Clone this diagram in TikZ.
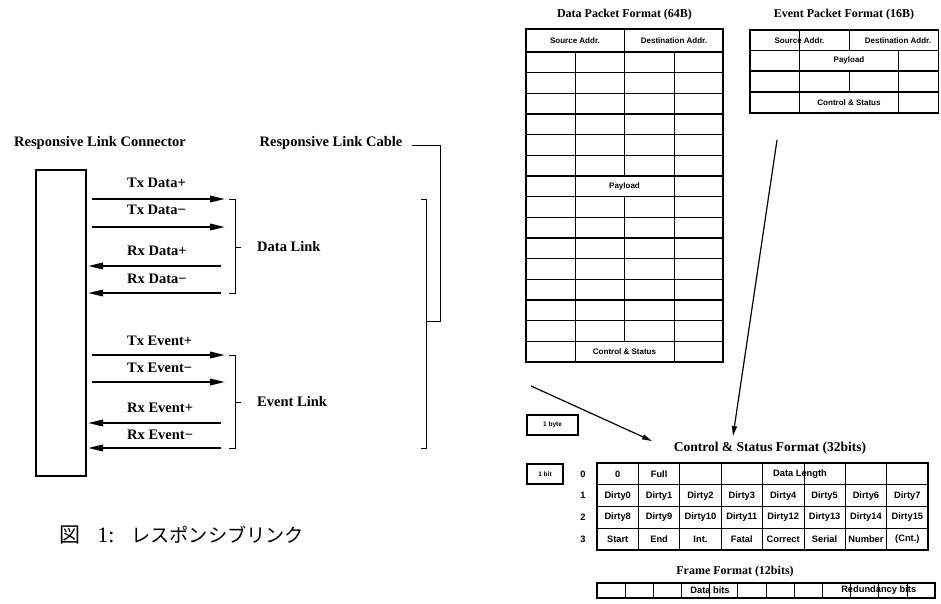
\documentclass[tikz,border=0pt]{standalone}
\usepackage{fontspec}
\newfontfamily\tms{Liberation Serif}
\newfontfamily\hlv{Liberation Sans}
\newfontfamily\cjk{Noto Sans CJK JP}
\usetikzlibrary{arrows.meta}
\begin{document}
\begin{tikzpicture}[x=1pt,y=-1pt,
  lbl/.style={font=\tms\bfseries\fontsize{14.5}{17}\selectfont, inner sep=0pt},
  ttl/.style={font=\tms\bfseries\fontsize{12}{14}\selectfont, inner sep=0pt},
  cell/.style={font=\hlv\bfseries\fontsize{8}{9}\selectfont, inner sep=0pt},
  csc/.style={font=\hlv\bfseries\fontsize{9.3}{10}\selectfont, inner sep=0pt},
  sig/.style={line width=1.9pt, -{Triangle[length=15pt,width=6.5pt]}},
  arr/.style={line width=1.2pt, -{Triangle[length=10pt,width=5pt]}},
  brk/.style={line width=0.9pt},
  hl/.style={line width=1.3pt},
  vl/.style={line width=0.7pt},
  bord/.style={line width=1.6pt},
  legend/.style={draw, line width=1.3pt, inner sep=0pt, font=\hlv\bfseries\fontsize{6.5}{7}\selectfont, minimum height=20pt}
]
\useasboundingbox (0,0) rectangle (941,604);

% ---------------- left: connector ----------------
\node[lbl] (tconn) at (100,143) {Responsive Link Connector};
\node[lbl] (tcable) at (331,143) {Responsive Link Cable};
\node[draw, line width=1.8pt, minimum width=50pt, minimum height=306pt, inner sep=0pt] (conn) at (61,323) {};

% signal coordinates
\coordinate (s1a) at (92,199);  \coordinate (s1b) at (225,199);
\coordinate (s2a) at (92,227);  \coordinate (s2b) at (225,227);
\coordinate (s3a) at (221,266); \coordinate (s3b) at (88,266);
\coordinate (s4a) at (221,293); \coordinate (s4b) at (88,293);
\coordinate (s5a) at (92,355);  \coordinate (s5b) at (225,355);
\coordinate (s6a) at (92,382);  \coordinate (s6b) at (225,382);
\coordinate (s7a) at (221,423); \coordinate (s7b) at (88,423);
\coordinate (s8a) at (221,448); \coordinate (s8b) at (88,448);
\foreach \i in {1,...,8} {\draw[sig] (s\i a) -- (s\i b);}

\node[lbl, anchor=west] (l1) at (127,183) {Tx Data+};
\node[lbl, anchor=west] (l2) at (127,210) {Tx Data−};
\node[lbl, anchor=west] (l3) at (127,251) {Rx Data+};
\node[lbl, anchor=west] (l4) at (127,279) {Rx Data−};
\node[lbl, anchor=west] (l5) at (127,341) {Tx Event+};
\node[lbl, anchor=west] (l6) at (127,368) {Tx Event−};
\node[lbl, anchor=west] (l7) at (127,408) {Rx Event+};
\node[lbl, anchor=west] (l8) at (127,435) {Rx Event−};

% brackets
\draw[brk] (229,199) -- (235,199) -- (235,293) -- (229,293) (235,247) -- (241,247);
\draw[brk] (229,355) -- (235,355) -- (235,448) -- (229,448) (235,402) -- (241,402);
\node[lbl, anchor=west] (ldata) at (257,247) {Data Link};
\node[lbl, anchor=west] (levent) at (257,402) {Event Link};
\draw[brk] (412,145) -- (440,145) -- (440,321) -- (427,321);
\draw[brk] (421,199) -- (426,199) -- (426,448) -- (421,448);

% caption
\node[font=\cjk\fontsize{21}{22}\selectfont, inner sep=0pt] (cfig) at (70,535) {図};
\node[font=\tms\fontsize{22}{24}\selectfont, inner sep=0pt] (cnum) at (106,535) {1:};
\node[font=\cjk\fontsize{19.2}{22}\selectfont, inner sep=0pt, anchor=west] (ctext) at (131,535) {レスポンシブリンク};

% ---------------- data packet table ----------------
\node[ttl] (dtitle) at (624.5,15) {Data Packet Format (64B)};
\foreach \k in {0,...,14} {\draw[hl] (526,{52+20.667*\k}) -- (723,{52+20.667*\k});}
\draw[vl] (575,52) -- (575,362);
\draw[vl] (624.5,29) -- (624.5,176) (624.5,196.67) -- (624.5,341.33);
\draw[vl] (674,52) -- (674,362);
\draw[bord] (526,29) rectangle (723,362);
\node[cell] (dsrc) at (575,40.5) {Source Addr.};
\node[cell] (ddst) at (674,40.5) {Destination Addr.};
\node[cell] (dpay) at (624.5,186.3) {Payload};
\node[cell] (dcs) at (624.5,351.7) {Control \& Status};

% ---------------- event packet table ----------------
\node[ttl] (etitle) at (844,15) {Event Packet Format (16B)};
\foreach \y in {50.5,71,92} {\draw[hl] (750,\y) -- (938.5,\y);}
\draw[vl] (799.5,30) -- (799.5,113);
\draw[vl] (849,30) -- (849,50.5) (849,71) -- (849,92);
\draw[vl] (898,50.5) -- (898,113);
\draw[bord] (750,30) rectangle (938.5,113);
\node[cell] (esrc) at (799.5,40.25) {Source Addr.};
\node[cell] (edst) at (898,40.25) {Destination Addr.};
\node[cell] (epay) at (849,60.75) {Payload};
\node[cell] (ecs) at (849,102.5) {Control \& Status};

% ---------------- legend boxes ----------------
\node[legend, minimum width=51pt] (lbyte) at (552.5,425) {1 byte};
\node[legend, minimum width=36pt] (lbit) at (545,474) {1 bit};

% ---------------- arrows ----------------
\coordinate (a1s) at (531,386); \coordinate (a1e) at (652,441);
\draw[arr] (a1s) -- (a1e);
\coordinate (a2s) at (777,140); \coordinate (a2e) at (733,436);
\draw[arr] (a2s) -- (a2e);

% ---------------- control & status table ----------------
\node[ttl, font=\tms\bfseries\fontsize{13.5}{15}\selectfont] (cstitle) at (770,448) {Control \& Status Format (32bits)};
\foreach \k in {1,2,3} {\draw[hl] (597,{463+21.75*\k}) -- (928,{463+21.75*\k});}
\foreach \k in {1,...,7} {\draw[vl] ({597+41.375*\k},463) -- ({597+41.375*\k},550);}
\draw[bord] (597,463) rectangle (928,550);
\foreach \r in {0,1,2,3} {\node[csc] (rl\r) at (583,{474+21.75*\r}) {\r};}
\node[csc] (c00) at (617.7,474) {0};
\node[csc] (c01) at (659.1,474) {Full};
\node[csc] (c04) at (800,474) {Data Length};
\foreach \t [count=\c from 0] in {Dirty0,Dirty1,Dirty2,Dirty3,Dirty4,Dirty5,Dirty6,Dirty7}
  {\node[csc] (c1\c) at ({617.7+41.375*\c},495.75) {\t};}
\foreach \t [count=\c from 0] in {Dirty8,Dirty9,Dirty10,Dirty11,Dirty12,Dirty13,Dirty14,Dirty15}
  {\node[csc] (c2\c) at ({617.7+41.375*\c},517.5) {\t};}
\foreach \t [count=\c from 0] in {Start,End,Int.,Fatal,Correct,Serial,Number,(Cnt.)}
  {\node[csc] (c3\c) at ({617.7+41.375*\c},539.25) {\t};}

% ---------------- frame format ----------------
\node[ttl] (ftitle) at (735,572) {Frame Format (12bits)};
\foreach \k in {1,...,11} {\draw[vl] ({597+28.167*\k},583) -- ({597+28.167*\k},598);}
\draw[bord] (597,583) rectangle (935,598);
\node[csc] (fdata) at (710,590.5) {Data bits};
\node[csc] (fred) at (878.7,590.5) {Redundancy bits};
\end{tikzpicture}
\end{document}
